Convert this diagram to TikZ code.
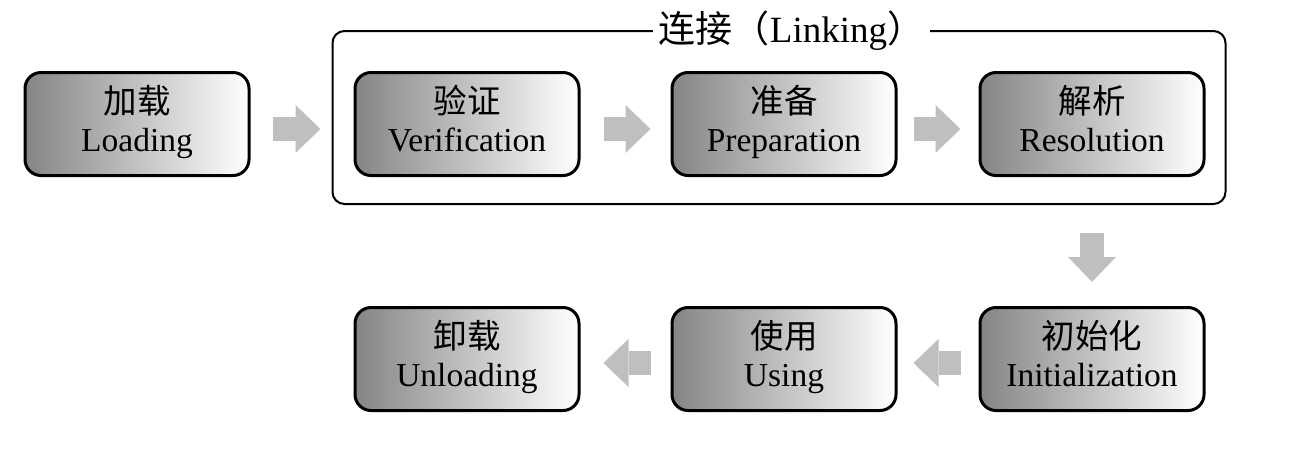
\documentclass[tikz,border=0pt]{standalone}
\usepackage{fontspec}
\setmainfont{Liberation Serif}
\newfontfamily\cjk{Noto Sans CJK SC}
\usepackage{tikz}
\usetikzlibrary{positioning}
\usetikzlibrary{calc}
\usetikzlibrary{arrows.meta}
\tikzset{stage node/.style={rectangle,rounded corners=8pt,draw,line width=1.5pt,
            left color=black!48,right color=white,shading angle=90,
            minimum width=112pt,minimum height=51.5pt,inner sep=0pt,align=center,
            font=\fontsize{16.75}{19}\selectfont,
            execute at begin node=\strut,execute at end node=\strut},
            }
\tikzset{flow arrow/.style={color=black!25,line width=12pt,
            -{Triangle[length=12.5pt,width=24pt,line width=0pt]}},
            }

\begin{document}
\begin{tikzpicture}[x=0.5pt,y=-0.5pt]
        \useasboundingbox (0,0) rectangle (1302,452);
        \node[stage node] (load) at (137,124) {{\cjk 加载}\\Loading};
        \node[stage node] (veri) [right = 51.5pt of load] {{\cjk 验证}\\Verification};
        \node[stage node] (prep) [right = 45pt of veri] {{\cjk 准备}\\Preparation};
        \node[stage node] (reso) [right = 40.5pt of prep] {{\cjk 解析}\\Resolution};
        \node[stage node] (init) [below = 64.5pt of reso] {{\cjk 初始化}\\Initialization};
        \node[stage node] (using) [below = 64.5pt of prep] {{\cjk 使用}\\Using};
        \node[stage node] (unload) [below = 64.5pt of veri] {{\cjk 卸载}\\Unloading};

        % linking frame
        \draw[line width=1pt,rounded corners=6pt]
          ([xshift=-10.5pt,yshift=20pt]veri.north west) rectangle ([xshift=10pt,yshift=-13.5pt]reso.south east);
        \node[fill=white,inner xsep=3pt,font=\fontsize{18.5}{20}\selectfont] (link)
          at ([xshift=6pt,yshift=20pt]$(veri.north)!0.5!(reso.north)$) {{\cjk 连接（}Linking{\cjk ）}};

        \draw[flow arrow,shorten <=11pt,shorten >=16.5pt] ([yshift=-2.5pt]load.east) -- ([yshift=-2.5pt]veri.west);
        \draw[flow arrow,shorten <=11.5pt,shorten >=10pt] ([yshift=-2.5pt]veri.east) -- ([yshift=-2.5pt]prep.west);
        \draw[flow arrow,shorten <=8pt,shorten >=9pt] ([yshift=-2.5pt]prep.east) -- ([yshift=-2.5pt]reso.west);
        \draw[flow arrow,shorten <=28pt,shorten >=12pt] (reso.south) -- (init.north);
        \draw[flow arrow,shorten <=9pt,shorten >=8pt] ([yshift=-2pt]init.west) -- ([yshift=-2pt]using.east);
        \draw[flow arrow,shorten <=10pt,shorten >=11.5pt] ([yshift=-2pt]using.west) -- ([yshift=-2pt]unload.east);
      \end{tikzpicture}
\end{document}
